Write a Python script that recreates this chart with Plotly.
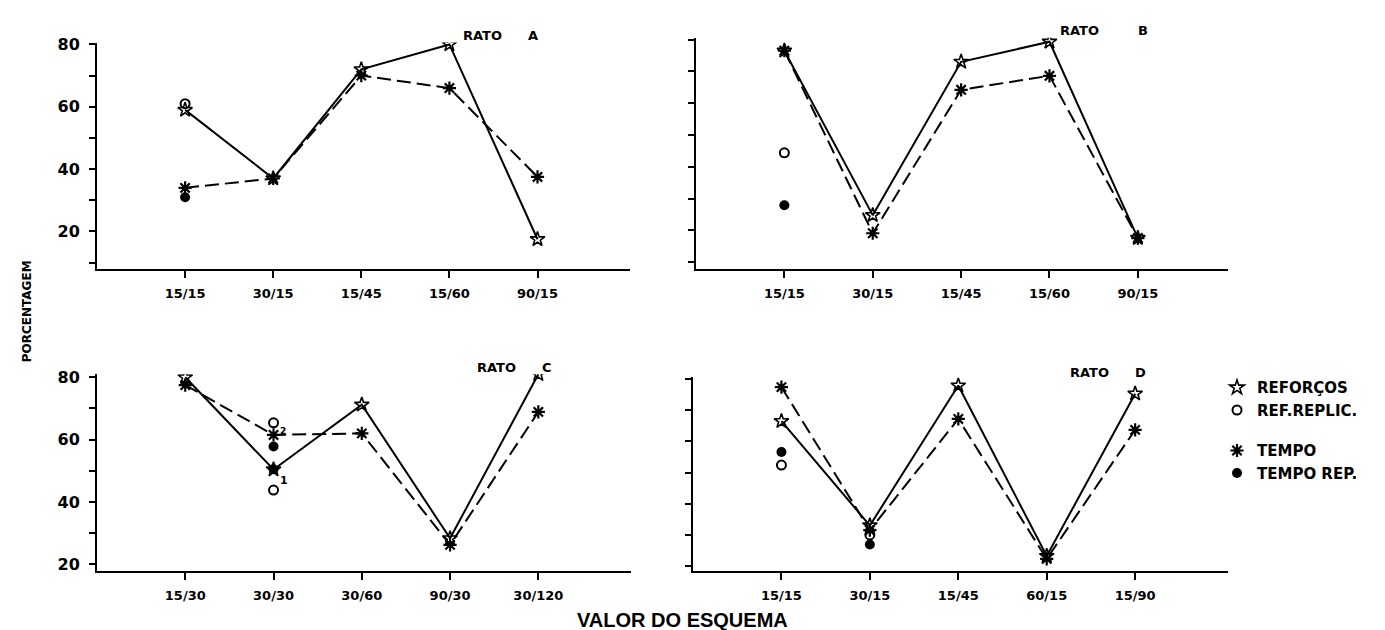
import plotly.graph_objects as go

W, H = 1385, 630

# ---------------- data ----------------
# RATO A
cats_a = ["15/15", "30/15", "15/45", "15/60", "90/15"]
reforcos_a = [59, 37, 72, 80, 17.5]
tempo_a = [34, 37, 70, 66, 37.5]
refrep_a_x = ["15/15"]
refrep_a = [61]
temporep_a_x = ["15/15"]
temporep_a = [31]

# RATO B
cats_b = ["15/15", "30/15", "15/45", "15/60", "90/15"]
reforcos_b = [76.5, 24.8, 73, 79.3, 17.6]
tempo_b = [76.5, 19.1, 64.2, 68.6, 17.6]
refrep_b_x = ["15/15"]
refrep_b = [44.4]
temporep_b_x = ["15/15"]
temporep_b = [27.9]

# RATO C
cats_c = ["15/30", "30/30", "30/60", "90/30", "30/120"]
reforcos_c = [80, 50.4, 71.2, 28.3, 81]
tempo_c = [77.5, 61.5, 62, 26.2, 68.9]
refrep_c_x = ["30/30", "30/30"]
refrep_c = [65.4, 43.8]
temporep_c_x = ["30/30", "30/30"]
temporep_c = [57.8, 50.5]

# RATO D
cats_d = ["15/15", "30/15", "15/45", "60/15", "15/90"]
reforcos_d = [66.5, 33, 77.9, 23.2, 75.3]
tempo_d = [77.4, 31.5, 67.2, 22.3, 63.7]
refrep_d_x = ["15/15", "30/15"]
refrep_d = [52.4, 30]
temporep_d_x = ["15/15", "30/15"]
temporep_d = [56.6, 26.9]

left_ticks_top = [10, 20, 30, 40, 50, 60, 70, 80]
left_text_top = ["", "20", "", "40", "", "60", "", "80"]
left_ticks_bot = [20, 30, 40, 50, 60, 70, 80]
left_text_bot = ["20", "", "40", "", "60", "", "80"]

titles = ["RATO\u2003\u2003A", "RATO\u2003\u2003\u2003B", "RATO\u2003\u2003C", "RATO\u2003\u2003D"]
legend_names = ["REFORÇOS", "REF.REPLIC.", "TEMPO", "TEMPO REP."]
x_title = "VALOR DO ESQUEMA"
y_title = "PORCENTAGEM"

# ---------------- layout geometry (pixels) ----------------
panels = [
    dict(cats=cats_a, ref=reforcos_a, tem=tempo_a, rrx=refrep_a_x, rr=refrep_a, trx=temporep_a_x, tr=temporep_a,
         xd=(89, 622), yd=(28, 258), xr=[-1, 5.05], yr=[8.0, 80.6], tv=left_ticks_top, tt=left_text_top,
         title=titles[0], tpos=(453, 21)),
    dict(cats=cats_b, ref=reforcos_b, tem=tempo_b, rrx=refrep_b_x, rr=refrep_b, trx=temporep_b_x, tr=temporep_b,
         xd=(688, 1220), yd=(23, 258), xr=[-1, 5.02], yr=[7.9, 80.6], tv=left_ticks_top, tt=[""] * 8,
         title=titles[1], tpos=(1050, 16)),
    dict(cats=cats_c, ref=reforcos_c, tem=tempo_c, rrx=refrep_c_x, rr=refrep_c, trx=temporep_c_x, tr=temporep_c,
         xd=(89, 623), yd=(365, 565), xr=[-1, 5.05], yr=[17.8, 81], tv=left_ticks_bot, tt=left_text_bot,
         title=titles[2], tpos=(467, 358)),
    dict(cats=cats_d, ref=reforcos_d, tem=tempo_d, rrx=refrep_d_x, rr=refrep_d, trx=temporep_d_x, tr=temporep_d,
         xd=(685, 1220), yd=(368, 565), xr=[-1, 5.05], yr=[18.4, 80.6], tv=left_ticks_bot, tt=[""] * 7,
         title=titles[3], tpos=(1060, 363)),
]

BLACK = "black"
STAR = dict(symbol="star-open", size=11, color=BLACK, line=dict(color=BLACK, width=1.6))
RING = dict(symbol="circle-open", size=9, color=BLACK, line=dict(color=BLACK, width=2))
AST = dict(symbol="asterisk-open", size=11, color=BLACK, line=dict(color=BLACK, width=2.2))
DOT = dict(symbol="circle", size=10, color=BLACK, line=dict(color=BLACK, width=0))

fig = go.Figure()
annotations = []

for i, p in enumerate(panels, start=1):
    xa = "x" if i == 1 else f"x{i}"
    ya = "y" if i == 1 else f"y{i}"
    # dashed: tempo
    fig.add_trace(go.Scatter(
        x=p["cats"], y=p["tem"], xaxis=xa, yaxis=ya, mode="lines+markers",
        line=dict(color=BLACK, width=2, dash="14px,6px"), marker=AST,
        showlegend=False, name=legend_names[2]))
    # solid: reforcos
    fig.add_trace(go.Scatter(
        x=p["cats"], y=p["ref"], xaxis=xa, yaxis=ya, mode="lines+markers",
        line=dict(color=BLACK, width=2), marker=STAR,
        showlegend=False, name=legend_names[0]))
    # replicated reinforcements
    fig.add_trace(go.Scatter(
        x=p["rrx"], y=p["rr"], xaxis=xa, yaxis=ya, mode="markers", marker=RING,
        showlegend=False, name=legend_names[1]))
    # replicated time
    fig.add_trace(go.Scatter(
        x=p["trx"], y=p["tr"], xaxis=xa, yaxis=ya, mode="markers", marker=DOT,
        showlegend=False, name=legend_names[3]))

    x0, x1 = p["xd"]
    ytop, ybot = p["yd"]
    xkey = "xaxis" if i == 1 else f"xaxis{i}"
    ykey = "yaxis" if i == 1 else f"yaxis{i}"
    fig.update_layout(**{
        xkey: dict(domain=[x0 / W, x1 / W], anchor=ya, type="category", categoryarray=p["cats"],
                   range=p["xr"], showline=True, linecolor=BLACK, linewidth=2, ticks="outside",
                   ticklen=7, tickwidth=2, tickcolor=BLACK, showgrid=False, zeroline=False,
                   ticklabelstandoff=4,
                   tickfont=dict(family="DejaVu Sans", size=13, color=BLACK, weight="bold"),
                   fixedrange=True),
        ykey: dict(domain=[1 - ybot / H, 1 - ytop / H], anchor=xa, range=p["yr"], showline=True,
                   linecolor=BLACK, linewidth=2, ticks="outside", ticklen=6, tickwidth=2,
                   tickcolor=BLACK, tickvals=p["tv"], ticktext=p["tt"], showgrid=False,
                   zeroline=False, ticklabelstandoff=6,
                   tickfont=dict(family="DejaVu Sans", size=16, color=BLACK, weight="bold"),
                   fixedrange=True),
    })
    tx, ty = p["tpos"]
    annotations.append(dict(text=p["title"], x=tx / W, y=1 - ty / H, xref="paper", yref="paper",
                            xanchor="left", yanchor="middle", showarrow=False,
                            font=dict(family="DejaVu Sans", size=13, color=BLACK, weight="bold")))

# superscript replication numbers in RATO C
annotations.append(dict(text="2", x="30/30", y=62.8, xref="x3", yref="y3", xshift=9, showarrow=False,
                        font=dict(family="DejaVu Sans", size=9, color=BLACK, weight="bold")))
annotations.append(dict(text="1", x="30/30", y=47, xref="x3", yref="y3", xshift=10, showarrow=False,
                        font=dict(family="DejaVu Sans", size=11, color=BLACK, weight="bold")))

# axis titles
annotations.append(dict(text=y_title, x=19 / W, y=1 - 301 / H, xref="paper", yref="paper",
                        textangle=-90, showarrow=False, xanchor="center", yanchor="middle",
                        font=dict(family="DejaVu Sans", size=12, color=BLACK, weight="bold")))
annotations.append(dict(text=x_title, x=674 / W, y=1 - 615 / H, xref="paper", yref="paper",
                        showarrow=False, xanchor="center", yanchor="middle",
                        font=dict(family="Liberation Sans", size=20, color=BLACK, weight="bold")))

# legend-only entries (markers only)
leg_specs = [
    (legend_names[0], STAR, "g1"),
    (legend_names[1], RING, "g1"),
    (legend_names[2], AST, "g2"),
    (legend_names[3], DOT, "g2"),
]
for name, mk, grp in leg_specs:
    fig.add_trace(go.Scatter(x=[None], y=[None], mode="markers", marker=mk, name=name,
                             legendgroup=grp, showlegend=True, xaxis="x4", yaxis="y4"))

fig.update_layout(
    width=W, height=H,
    margin=dict(l=0, r=0, t=0, b=0),
    paper_bgcolor="white", plot_bgcolor="white",
    annotations=annotations,
    showlegend=True,
    legend=dict(x=1209 / W, y=1 - 362 / H, xanchor="left", yanchor="top",
                bgcolor="rgba(0,0,0,0)", borderwidth=0, tracegroupgap=18,
                itemwidth=30, traceorder="grouped",
                font=dict(family="DejaVu Sans", size=15, color=BLACK, weight="bold")),
)

fig.write_html("out.html")
